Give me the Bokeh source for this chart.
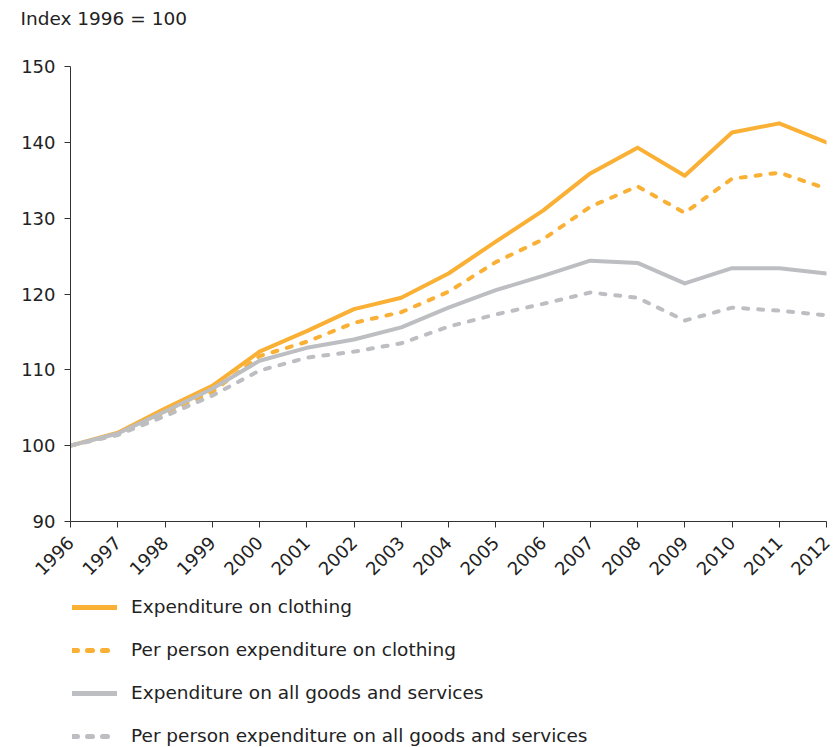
import math
from bokeh.plotting import figure
from bokeh.layouts import column
from bokeh.models import Legend, LegendItem, FixedTicker
from bokeh.embed import file_html
from bokeh.resources import INLINE

years = list(range(1996, 2013))
clothing = [100, 101.7, 104.9, 107.9, 112.4, 115.1, 118.0, 119.5, 122.7, 126.9, 131.0, 135.9, 139.3, 135.6, 141.3, 142.5, 140.0]
clothing_pp = [100, 101.5, 104.3, 107.1, 111.8, 113.7, 116.2, 117.6, 120.3, 124.2, 127.2, 131.5, 134.2, 130.7, 135.2, 136.0, 133.9]
all_goods = [100, 101.6, 104.5, 107.5, 111.2, 112.9, 114.0, 115.6, 118.2, 120.5, 122.4, 124.4, 124.1, 121.4, 123.4, 123.4, 122.7]
all_goods_pp = [100, 101.4, 103.9, 106.6, 109.9, 111.6, 112.4, 113.5, 115.7, 117.3, 118.7, 120.2, 119.5, 116.5, 118.2, 117.8, 117.2]
y_ticks = [90, 100, 110, 120, 130, 140, 150]
labels = ["Expenditure on clothing", "Per person expenditure on clothing",
          "Expenditure on all goods and services", "Per person expenditure on all goods and services"]
series = [clothing, clothing_pp, all_goods, all_goods_pp]

ORANGE = "#F9B035"
GREY = "#BDBEC2"
colors = [ORANGE, ORANGE, GREY, GREY]
dashes = ["solid", "5 10", "solid", "5 10"]
FONT = "DejaVu Sans"
TXT = "#222222"

# header with the axis caption
hd = figure(width=837, height=50, output_backend="svg", toolbar_location=None,
            x_axis_type=None, y_axis_type=None, x_range=(0, 1), y_range=(0, 1),
            min_border=0, title="Index 1996 = 100")
hd.outline_line_color = None
hd.xgrid.visible = False
hd.ygrid.visible = False
hd.title.align = "left"
hd.title.offset = -50
hd.title.text_font = FONT
hd.title.text_font_size = "18.5px"
hd.title.text_font_style = "normal"
hd.title.text_color = TXT

p = figure(width=837, height=540, output_backend="svg", toolbar_location=None,
           x_range=(1996, 2012), y_range=(90, 150),
           min_border_left=70, min_border_right=11, min_border_top=16, min_border_bottom=69)
p.outline_line_color = None
p.xgrid.visible = False
p.ygrid.visible = False

for s, c, d in zip(series, colors, dashes):
    p.line(years, s, line_color=c, line_width=4, line_dash=d, line_cap="round", line_join="round")

for ax in (p.xaxis[0], p.yaxis[0]):
    ax.axis_line_color = "#333333"
    ax.major_tick_line_color = "#333333"
    ax.major_tick_in = 0
    ax.major_tick_out = 6
    ax.minor_tick_line_color = None
    ax.major_label_text_font = FONT
    ax.major_label_text_font_size = "18px"
    ax.major_label_text_color = TXT
p.yaxis.major_label_standoff = 9
p.xaxis.major_label_standoff = 12

p.xaxis.ticker = FixedTicker(ticks=years)
p.xaxis.major_label_orientation = math.pi / 4
p.yaxis.ticker = FixedTicker(ticks=y_ticks)

# legend panel
lg = figure(width=837, height=157, output_backend="svg", toolbar_location=None,
            x_axis_type=None, y_axis_type=None, x_range=(0, 1), y_range=(0, 1),
            min_border=0)
lg.outline_line_color = None
lg.xgrid.visible = False
lg.ygrid.visible = False
rs = [lg.line([-10, -9], [-10, -9], line_color=c, line_width=5, line_dash=d, line_cap="round")
      for c, d in zip(colors, dashes)]
legend = Legend(items=[LegendItem(label=l, renderers=[r]) for l, r in zip(labels, rs)],
                location=(2, 1), orientation="vertical", glyph_width=45, glyph_height=20,
                label_height=20, spacing=22, label_standoff=14, padding=0, margin=0,
                border_line_alpha=0, background_fill_alpha=0,
                label_text_font=FONT, label_text_font_size="18.5px", label_text_color=TXT)
lg.add_layout(legend)

layout = column(hd, p, lg, spacing=0)
open("out.html", "w").write(file_html(layout, INLINE))
